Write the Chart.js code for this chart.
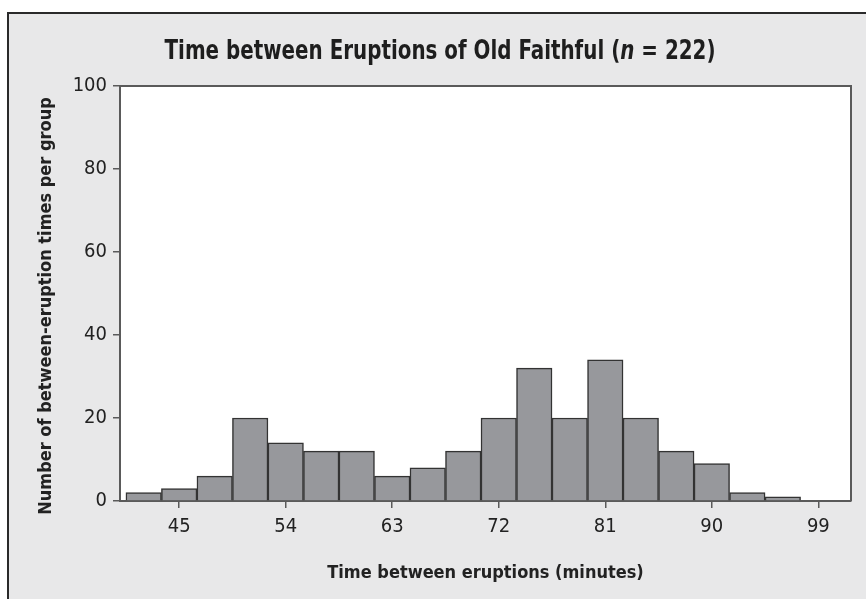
<!DOCTYPE html>
<html>
<head>
<meta charset="utf-8">
<script src="https://cdn.jsdelivr.net/npm/chart.js@4/dist/chart.umd.min.js"></script>
<style>
    html, body { margin: 0; padding: 0; background: #ffffff; overflow: hidden; }
    #wrap { position: relative; width: 866px; height: 599px; }
    #histogram { position: absolute; left: 0; top: 0; }
    #title {
        position: absolute; left: 40px; top: 35px; width: 800px;
        text-align: center; line-height: 30px;
        font-family: "Liberation Sans Narrow", "DejaVu Sans Condensed", "Arial Narrow", sans-serif;
        font-weight: bold; font-size: 26px; color: #1e1e1e;
        transform: scaleX(0.85); transform-origin: 50% 50%;
    }
</style>
</head>
<body>
<div id="wrap">
    <canvas id="histogram" width="866" height="599"></canvas>
    <div id="title">Time between Eruptions of Old Faithful (<i>n</i> = 222)</div>
</div>
<script>
// bin midpoints (minutes), bins are 3 minutes wide
const binCenters = [42, 45, 48, 51, 54, 57, 60, 63, 66, 69, 72, 75, 78, 81, 84, 87, 90, 93, 96];
const counts = [2, 3, 6, 20, 14, 12, 12, 6, 8, 12, 20, 32, 20, 34, 20, 12, 9, 2, 1];
const xTickValues = [45, 54, 63, 72, 81, 90, 99];
const yTickValues = [0, 20, 40, 60, 80, 100];

const xTitle = "Time between eruptions (minutes)";
const yTitle = "Number of between-eruption times per group";

const fontFamily = '"Liberation Sans Narrow", "DejaVu Sans Condensed", "Arial Narrow", sans-serif';
Chart.defaults.font.family = fontFamily;
Chart.defaults.color = "#222";

// paints the grey frame, the white plot area and the y-axis title
const framePlugin = {
    id: "frame",
    beforeDraw: function (chart) {
        const ctx = chart.ctx;
        const area = chart.chartArea;
        ctx.save();
        ctx.fillStyle = "#ffffff";
        ctx.fillRect(0, 0, chart.width, chart.height);
        ctx.fillStyle = "#e8e8e9";
        ctx.fillRect(7, 12, chart.width - 7, chart.height - 12);
        ctx.strokeStyle = "#2a2a2a";
        ctx.lineWidth = 2;
        ctx.beginPath();
        ctx.moveTo(8, chart.height);
        ctx.lineTo(8, 13);
        ctx.lineTo(chart.width, 13);
        ctx.stroke();
        ctx.fillStyle = "#ffffff";
        ctx.fillRect(area.left, area.top, area.right - area.left, area.bottom - area.top);
        ctx.restore();
    },
    afterDraw: function (chart) {
        const ctx = chart.ctx;
        const area = chart.chartArea;
        ctx.save();
        ctx.strokeStyle = "#5a5a5a";
        ctx.lineWidth = 2;
        ctx.beginPath();
        ctx.moveTo(area.left, area.top);
        ctx.lineTo(area.right, area.top);
        ctx.lineTo(area.right, area.bottom);
        ctx.stroke();

        // y title sits a little below the plot's middle in the original
        ctx.translate(46, 306);
        ctx.rotate(-Math.PI / 2);
        ctx.fillStyle = "#222";
        ctx.font = "bold 18px " + fontFamily;
        ctx.textAlign = "center";
        ctx.textBaseline = "middle";
        ctx.fillText(yTitle, 0, 0);
        ctx.restore();
    }
};

new Chart(document.getElementById("histogram"), {
    type: "bar",
    data: {
        datasets: [{
            data: binCenters.map(function (x, i) { return { x: x, y: counts[i] }; }),
            backgroundColor: "#97989c",
            borderColor: "#333333",
            borderWidth: 1.5,
            barPercentage: 1,
            categoryPercentage: 1
        }]
    },
    plugins: [framePlugin],
    options: {
        responsive: false,
        animation: false,
        layout: { padding: { left: 0, right: 15, top: 86, bottom: 0 } },
        plugins: {
            legend: { display: false },
            tooltip: { enabled: false }
        },
        scales: {
            x: {
                type: "linear",
                min: 40,
                max: 101.76,
                offset: false,
                afterFit: function (scale) { scale.height = 98; },
                afterBuildTicks: function (scale) {
                    scale.ticks = xTickValues.map(function (v) { return { value: v }; });
                },
                grid: { display: true, drawOnChartArea: false, drawTicks: true, tickLength: 7, color: "#5a5a5a", lineWidth: 1.5, offset: false },
                border: { display: true, color: "#5a5a5a", width: 2 },
                ticks: { font: { size: 20 }, padding: 7, maxRotation: 0, autoSkip: false },
                title: { display: true, text: xTitle, font: { size: 18, weight: "bold" }, padding: { top: 0, bottom: 15 } }
            },
            y: {
                min: 0,
                max: 100,
                afterFit: function (scale) { scale.width = 120; },
                afterBuildTicks: function (scale) {
                    scale.ticks = yTickValues.map(function (v) { return { value: v }; });
                },
                grid: { display: true, drawOnChartArea: false, drawTicks: true, tickLength: 7, color: "#5a5a5a", lineWidth: 1.5 },
                border: { display: true, color: "#5a5a5a", width: 2 },
                ticks: { font: { size: 20 }, padding: 6 }
            }
        }
    }
});
</script>
</body>
</html>
